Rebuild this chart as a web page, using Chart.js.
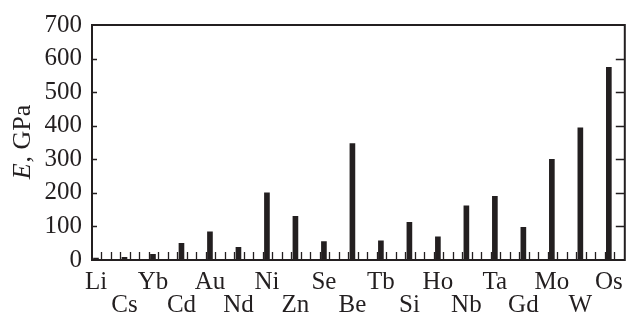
<!DOCTYPE html>
<html>
<head>
<meta charset="utf-8">
<script src="https://cdn.jsdelivr.net/npm/chart.js@4.4.1/dist/chart.umd.min.js"></script>
<style>
  html, body { margin: 0; padding: 0; background: #fff; }
  #box { width: 634px; height: 321px; }
</style>
</head>
<body>
<div id="box"><canvas id="grafico" width="634" height="321"></canvas></div>
<script>
// elementos, na ordem do eixo x
var elementos = ["Li", "Cs", "Yb", "Cd", "Au", "Nd", "Ni", "Zn", "Se", "Be",
                 "Tb", "Si", "Ho", "Nb", "Ta", "Gd", "Mo", "W", "Os"];
// modulo de Young E, GPa
var modulos = [6, 8, 17, 50, 84, 38, 200, 130, 55, 347,
               57, 112, 69, 161, 190, 97, 300, 394, 574];
var ticksY = [0, 100, 200, 300, 400, 500, 600, 700];

var cor = "#231f20";
var fonte = "'Liberation Serif', 'Times New Roman', serif";

var pontos = [];
for (var i = 0; i < elementos.length; i++) {
    pontos.push({ x: i, y: modulos[i] });
}

// tracinhos internos dos eixos + titulo do eixo y
var marcasPlugin = {
    id: "marcas",
    afterDraw: function (chart) {
        var ctx = chart.ctx;
        var area = chart.chartArea;
        var sx = chart.scales.x;
        var sy = chart.scales.y;
        ctx.save();
        ctx.strokeStyle = cor;
        ctx.lineWidth = 1.3;
        ctx.beginPath();
        // eixo x: um tracinho a cada 1/3
        for (var v = sx.min + 1 / 3; v < sx.max - 0.1; v += 1 / 3) {
            var px = Math.round(sx.getPixelForValue(v)) + 0.5;
            ctx.moveTo(px, area.bottom);
            ctx.lineTo(px, area.bottom - 8);
        }
        // eixo y: esquerda e direita
        for (var k = 1; k < ticksY.length - 1; k++) {
            var py = Math.round(sy.getPixelForValue(ticksY[k])) + 0.5;
            ctx.moveTo(area.left, py);
            ctx.lineTo(area.left + 5, py);
            ctx.moveTo(area.right, py);
            ctx.lineTo(area.right - 9, py);
        }
        ctx.stroke();
        // moldura
        ctx.lineWidth = 2;
        ctx.strokeRect(area.left, area.top, area.right - area.left, area.bottom - area.top);

        // titulo: "E" em italico, ", GPa" normal
        ctx.translate(23, (area.top + area.bottom) / 2);
        ctx.rotate(-Math.PI / 2);
        ctx.fillStyle = cor;
        ctx.textBaseline = "middle";
        ctx.font = "italic 26px " + fonte;
        var w1 = ctx.measureText("E").width;
        ctx.font = "26px " + fonte;
        var w2 = ctx.measureText(", GPa").width;
        var x0 = -(w1 + w2) / 2;
        ctx.font = "italic 26px " + fonte;
        ctx.textAlign = "left";
        ctx.fillText("E", x0, 0);
        ctx.font = "26px " + fonte;
        ctx.fillText(", GPa", x0 + w1 + 1, 0);
        ctx.restore();
    }
};

new Chart(document.getElementById("grafico").getContext("2d"), {
    type: "bar",
    data: {
        datasets: [{
            label: "E",
            data: pontos,
            backgroundColor: cor,
            borderWidth: 0,
            barThickness: 5
        }]
    },
    options: {
        responsive: false,
        animation: false,
        layout: { padding: { top: 20, right: 9, left: 0, bottom: 0 } },
        plugins: { legend: { display: false }, tooltip: { enabled: false } },
        scales: {
            x: {
                type: "linear",
                offset: false,
                min: -0.14,
                max: 18.56,
                grid: { display: false, drawTicks: false, offset: false },
                border: { display: false },
                afterBuildTicks: function (scale) {
                    scale.ticks = elementos.map(function (e, i) { return { value: i }; });
                },
                afterFit: function (scale) { scale.height = 61; },
                ticks: {
                    autoSkip: false,
                    maxRotation: 0,
                    padding: 11,
                    color: cor,
                    font: { family: fonte, size: 25, lineHeight: 0.92 },
                    callback: function (valor) {
                        var nome = elementos[valor];
                        return valor % 2 == 0 ? nome : ["", nome];
                    }
                }
            },
            y: {
                min: 0,
                max: 700,
                grid: { display: false, drawTicks: false },
                border: { display: false },
                afterFit: function (scale) { scale.width = 92; },
                ticks: {
                    stepSize: 100,
                    padding: 10,
                    color: cor,
                    font: { family: fonte, size: 25 }
                }
            }
        }
    },
    plugins: [marcasPlugin]
});
</script>
</body>
</html>
